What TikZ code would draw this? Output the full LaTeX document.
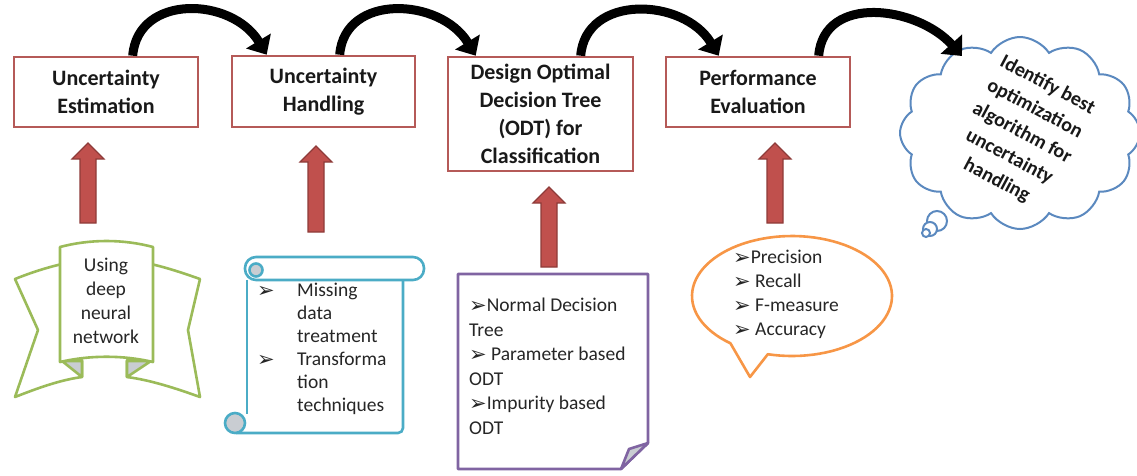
\documentclass[tikz,border=0pt]{standalone}
\usepackage{fontspec}
\setmainfont{Carlito}
\newfontfamily\dv{DejaVu Sans}
\usetikzlibrary{arrows.meta,shapes.symbols,calc}
\definecolor{boxred}{HTML}{B55A58}
\definecolor{arrfill}{HTML}{C0504D}
\definecolor{arrline}{HTML}{8E3B39}
\definecolor{rgreen}{HTML}{9BBB59}
\definecolor{steal}{HTML}{4BACC6}
\definecolor{npurple}{HTML}{8064A2}
\definecolor{borange}{HTML}{F79646}
\definecolor{cblue}{HTML}{5B89BF}
\definecolor{foldgray}{HTML}{C9CDD2}
\newcommand\bul{{\dv\fontsize{21}{21}\selectfont\raisebox{-1pt}{➢}}}
\newcommand\redup[3]{\draw[uparr] ({#1-8},#3) -- ({#1-8},{#2+16}) -- ({#1-16},{#2+16}) -- (#1,#2) -- ({#1+16},{#2+16}) -- ({#1+8},{#2+16}) -- ({#1+8},#3) -- cycle;}
\begin{document}
\begin{tikzpicture}[x=1pt,y=-1pt,
  stepbox/.style={draw=boxred, line width=2.6pt, fill=white, text=black!90,
    font=\fontsize{22}{28}\selectfont\bfseries, align=center, inner sep=0pt},
  flow/.style={line width=9pt, black, -{Triangle[width=28pt,length=16pt]}},
  uparr/.style={fill=arrfill, draw=arrline, line width=1.2pt},
  bodytext/.style={font=\fontsize{19.5}{24}\selectfont, text=black!85, inner sep=0pt},
  ribbon/.style={draw=rgreen, fill=white, line width=2.6pt, line join=round},
  scrl/.style={draw=steal, fill=white, line width=2.6pt, line join=round},
  note/.style={draw=npurple, fill=white, line width=2.6pt, line join=round},
  bubble/.style={draw=borange, fill=white, line width=2.6pt, line join=round},
  cloudline/.style={draw=cblue, fill=white, line width=2pt}]
\useasboundingbox (0,0) rectangle (1137,475);

% main step boxes
\node[stepbox, minimum width=184pt, minimum height=70pt] (b1) at (106,92) {Uncertainty\\Estimation};
\node[stepbox, minimum width=183pt, minimum height=71pt] (b2) at (323.5,91.5) {Uncertainty\\Handling};
\node[stepbox, minimum width=185pt, minimum height=114pt] (b3) at (540.5,114) {Design Optimal\\Decision Tree\\(ODT) for\\Classification};
\node[stepbox, minimum width=184pt, minimum height=70pt] (b4) at (758,92) {Performance\\Evaluation};

% cloud
\node[cloud, cloud puffs=12, cloud puff arc=115, draw=cblue, line width=2pt, fill=white,
      minimum width=240pt, minimum height=192pt, cloud ignores aspect] (cl) at (1020,133) {};
\draw[cloudline] (937,221) circle[radius=10pt];
\draw[cloudline] (930,229) circle[radius=7pt];
\draw[cloudline] (926,233) circle[radius=4pt];
\node[font=\fontsize{20}{27}\selectfont\bfseries, text=black!90, align=center, rotate=-28] (ct) at ($(cl.center)+(2,0)$)
  {Identify best\\optimization\\algorithm for\\uncertainty\\handling};

% black flow arrows
\draw[flow] ($(b1.north west)+(120,0)$) .. controls +(5,-62) and +(-35,-58) .. ($(b2.north west)+(36,0)$);
\draw[flow] ($(b2.north west)+(109,0)$) .. controls +(5,-62) and +(-35,-58) .. ($(b3.north west)+(29,0)$);
\draw[flow] ($(b3.north west)+(134,0)$) .. controls +(5,-62) and +(-35,-58) .. ($(b4.north west)+(54,0)$);
\coordinate (ctop) at ($(cl.center)+(-58,-77)$);
\draw[flow] ($(b4.north west)+(154,0)$) .. controls +(5,-62) and +(-45,-50) .. (ctop);

% red up arrows
\redup{88}{143}{223}
\redup{316}{146}{232}
\redup{549}{187}{267}
\redup{775}{143}{223}

% ribbon
\filldraw[ribbon] (62,264) .. controls (45,268) and (30,273) .. (15,279) -- (38,330) -- (15,397) .. controls (38,388) and (60,380) .. (82,377) -- (82,360) -- (62,360) -- cycle;
\filldraw[ribbon] (151,264) .. controls (168,268) and (183,273) .. (200,279) -- (188,330) -- (200,397) .. controls (175,388) and (150,380) .. (127,377) -- (127,360) -- (151,360) -- cycle;
\filldraw[ribbon, fill=foldgray] (62,361) -- (82,377) -- (82,361) -- cycle;
\filldraw[ribbon, fill=foldgray] (151,361) -- (127,377) -- (127,361) -- cycle;
\filldraw[ribbon] (60,247) .. controls (90,239) and (123,239) .. (153,247) -- (153,362) .. controls (123,355) and (90,355) .. (60,362) -- cycle;
\node[bodytext, align=center] (rib) at (106,301) {Using\\deep\\neural\\network};

% scroll
\fill[white] (247,275) rectangle (403,433);
\draw[scrl] (247,280) -- (247,414);
\draw[scrl, rounded corners=5pt] (403,280) -- (403,433) -- (236,433);
\filldraw[scrl, rounded corners=11pt] (245,257) rectangle (424,280);
\filldraw[scrl, fill=foldgray] (256,270) circle[radius=6.5pt];
\filldraw[scrl, fill=foldgray] (235,423) circle[radius=10pt];
\node[bodytext, anchor=north west, align=left] (sc) at (257,280)
  {\fontsize{19.5}{23}\selectfont\begin{tabular}{@{}p{40pt}@{}l@{}}
   \bul & Missing\\ & data\\ & treatment\\ \bul & Transforma\\ & tion\\ & techniques\end{tabular}};

% note
\filldraw[note] (458,274) -- (648,274) -- (648,443) -- (621,469) -- (458,469) -- cycle;
\filldraw[note, fill=foldgray] (648,443) -- (621,469) -- (629,449) -- cycle;
\node[bodytext, anchor=north west, align=left, font=\fontsize{19.5}{24.5}\selectfont] (nt) at (469,298)
  {\bul Normal Decision\\Tree\\\bul{} Parameter based\\ODT\\\bul Impurity based\\ODT};

% speech bubble
\filldraw[bubble] (750,377) -- plot[domain=104:-232, samples=90] ({792+100*cos(\x)},{296+60*sin(\x)}) -- cycle;
\node[bodytext, anchor=north west, align=left] (bb) at (733,250)
  {\bul Precision\\\bul{} Recall\\\bul{} F-measure\\\bul{} Accuracy};
\end{tikzpicture}
\end{document}
